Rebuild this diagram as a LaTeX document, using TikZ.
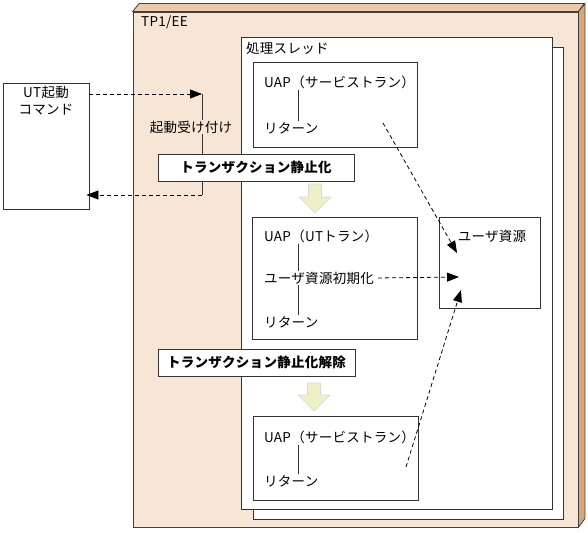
\documentclass[tikz,border=0pt]{standalone}
\usepackage{fontspec}
\setmainfont{Noto Sans CJK JP}[LetterSpace=2]
\usetikzlibrary{arrows.meta}

\definecolor{tpfront}{RGB}{247,230,214}
\definecolor{tptop}{RGB}{236,202,168}
\definecolor{tpside}{RGB}{216,166,120}
\definecolor{quiet}{RGB}{238,240,198}

\begin{document}
\fontsize{13.5}{17}\selectfont
\begin{tikzpicture}[x=1pt,y=-1pt]
	\tikzstyle{box}=[draw=black!80, line width=0.8pt, fill=white, inner sep=0pt]
	\tikzstyle{txt}=[inner sep=1pt, anchor=west]
	\tikzstyle{stopbox}=[box, minimum height=27pt, font=\bfseries]
	\tikzstyle{dasharrow}=[dash pattern=on 4pt off 3pt, line width=0.8pt, -{Triangle[length=12pt,width=9pt]}]
	\tikzstyle{bar}=[black!80, line width=0.8pt]
	\tikzstyle{yarrow}=[fill=quiet, draw=black!15, line width=0.6pt]
	\useasboundingbox (0,0) rectangle (588,532);
	% TP1/EE
	\node[draw=black!75, line width=0.8pt, fill=tpfront, minimum width=445pt, minimum height=515pt] (tp) at (355.5,269.5) {};
	\draw[fill=tptop, draw=black!75, line width=0.8pt] (tp.north west) -- ++(6.5,-8) -- ++(445,0) -- (tp.north east) -- cycle;
	\draw[fill=tpside, draw=black!75, line width=0.8pt] (tp.north east) -- ++(6.5,-8) -- ++(0,515) -- (tp.south east) -- cycle;
	\node[txt] (tpname) at (140,22) {TP1/EE};
	% thread
	\node[box, minimum width=310pt, minimum height=472pt] (sheetb) at (408,283) {};
	\node[box, minimum width=311pt, minimum height=472pt] (sheet) at (396.5,273) {};
	\node[txt] (thread) at (245,48) {処理スレッド};
	% command
	\node[box, minimum width=86pt, minimum height=126pt] (cmd) at (46,146) {};
	\node[align=center, anchor=north, inner sep=0pt] (cmdname) at (46,86) {UT起動\\コマンド};
	\node[inner sep=1pt] (accept) at (191,127) {起動受け付け};
	\coordinate (acctop) at (202,94);
	\coordinate (accbot) at (202,195);
	\draw[bar] (acctop) -- (acctop |- accept.north);
	\draw[bar] (acctop |- accept.south) -- (accbot);
	% service
	\node[box, minimum width=164pt, minimum height=85pt] (uapa) at (335,104.5) {};
	\node[txt] (uapaname) at (263,82) {UAP（サービストラン）};
	\node[txt] (uaparet) at (263,128) {リターン};
	\draw[bar] ([xshift=35pt]uapaname.south west) -- ([xshift=35pt]uaparet.north west);
	\node[stopbox, minimum width=196pt] (stop) at (256,167.5) {トランザクション静止化};
	\draw[yarrow] (308.5,184) -- (321.5,184) -- (321.5,197) -- (331,197) -- (315,213) -- (299,197) -- (308.5,197) -- cycle;
	% UT
	\node[box, minimum width=165pt, minimum height=122pt] (uapb) at (334.5,278) {};
	\node[txt] (uapbname) at (263,236) {UAP（UTトラン）};
	\node[txt] (uapbinit) at (263,278) {ユーザ資源初期化};
	\node[txt] (uapbret) at (263,322) {リターン};
	\draw[bar] ([xshift=35pt]uapbname.south west) -- ([xshift=35pt]uapbinit.north west);
	\draw[bar] ([xshift=35pt]uapbinit.south west) -- ([xshift=35pt]uapbret.north west);
	\node[box, minimum width=101pt, minimum height=91pt] (res) at (489.5,262.5) {};
	\node[inner sep=1pt] (resname) at (492,236) {ユーザ資源};
	\node[stopbox, minimum width=197pt] (restart) at (256.5,362.5) {トランザクション静止化解除};
	\draw[yarrow] (307.5,383) -- (320.5,383) -- (320.5,395) -- (330,395) -- (314,411) -- (298,395) -- (307.5,395) -- cycle;
	% service again
	\node[box, minimum width=165pt, minimum height=84pt] (uapc) at (335.5,458) {};
	\node[txt] (uapcname) at (263,437) {UAP（サービストラン）};
	\node[txt] (uapcret) at (263,481) {リターン};
	\draw[bar] ([xshift=35pt]uapcname.south west) -- ([xshift=35pt]uapcret.north west);
	% arrows
	\coordinate (froma) at (383,123);
	\coordinate (fromc) at (406,467);
	\coordinate (toa) at (457,253);
	\coordinate (tob) at (459,277);
	\coordinate (toc) at (461,290);
	\draw[dasharrow] (cmd.east |- acctop) -- (acctop);
	\draw[dasharrow, shorten >=-3pt] (accbot) -- (cmd.east |- accbot);
	\draw[dasharrow] (froma) -- (toa);
	\draw[dasharrow, shorten <=3pt] (uapbinit.east) -- (tob);
	\draw[dasharrow] (fromc) -- (toc);
\end{tikzpicture}
\end{document}
